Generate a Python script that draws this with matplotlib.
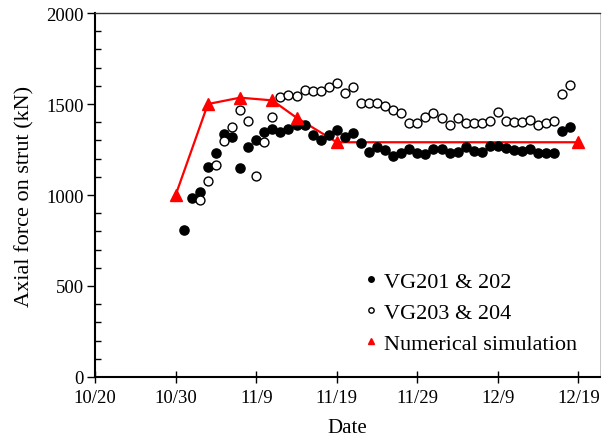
import matplotlib
matplotlib.use("Agg")
from matplotlib import pyplot as plt
from matplotlib.ticker import MultipleLocator
import pandas as pd

YEAR = "2020"

# VG201 & 202 (filled circles)
vg201_dates = [
    "10/31",
    "11/1", "11/2", "11/3", "11/4", "11/5", "11/6", "11/7", "11/8", "11/9", "11/10",
    "11/11", "11/12", "11/13", "11/14", "11/15", "11/16", "11/17", "11/18", "11/19", "11/20",
    "11/21", "11/22", "11/23", "11/24", "11/25", "11/26", "11/27", "11/28", "11/29", "11/30",
    "12/1", "12/2", "12/3", "12/4", "12/5", "12/6", "12/7", "12/8", "12/9", "12/10",
    "12/11", "12/12", "12/13", "12/14", "12/15", "12/16", "12/17", "12/18",
]
vg201_force = [
    810,
    981, 1018, 1155, 1229, 1333, 1317, 1150, 1265, 1302, 1348,
    1363, 1348, 1363, 1385, 1385, 1330, 1302, 1330, 1357, 1317,
    1339, 1284, 1238, 1265, 1247, 1216, 1232, 1251, 1232, 1225,
    1252, 1252, 1232, 1238, 1265, 1241, 1238, 1269, 1269, 1256,
    1247, 1243, 1252, 1232, 1232, 1232, 1354, 1376,
]

# VG203 & 204 (open circles)
vg203_dates = [
    "11/2", "11/3", "11/4", "11/5", "11/6", "11/7", "11/8", "11/9", "11/10",
    "11/11", "11/12", "11/13", "11/14", "11/15", "11/16", "11/17", "11/18", "11/19", "11/20",
    "11/21", "11/22", "11/23", "11/24", "11/25", "11/26", "11/27", "11/28", "11/29", "11/30",
    "12/1", "12/2", "12/3", "12/4", "12/5", "12/6", "12/7", "12/8", "12/9", "12/10",
    "12/11", "12/12", "12/13", "12/14", "12/15", "12/16", "12/17", "12/18",
]
vg203_force = [
    975, 1076, 1164, 1296, 1376, 1467, 1409, 1106, 1293,
    1431, 1541, 1550, 1546, 1577, 1574, 1572, 1592, 1618, 1563,
    1596, 1504, 1504, 1508, 1489, 1467, 1453, 1398, 1398, 1427,
    1453, 1425, 1385, 1425, 1398, 1398, 1398, 1407, 1455, 1407,
    1399, 1399, 1412, 1385, 1394, 1409, 1554, 1602,
]

# Numerical simulation
sim_dates = ["10/30", "11/3", "11/7", "11/11", "11/14", "11/19", "12/19"]
sim_force = [1000, 1500, 1535, 1520, 1425, 1290, 1290]

tick_dates = ["10/20", "10/30", "11/9", "11/19", "11/29", "12/9", "12/19"]


def to_dt(labels):
    return pd.to_datetime([f"{YEAR}/{d}" for d in labels], format="%Y/%m/%d")


plt.rcParams["font.family"] = ["Liberation Serif", "DejaVu Serif"]

fig = plt.figure(figsize=(6.02, 4.39), dpi=100)
ax = fig.add_axes([0.158, 0.139, 0.839, 0.829])

# simulation line (legend shows only the marker)
ax.plot(to_dt(sim_dates), sim_force, "-", color="#ff0000", linewidth=1.6, zorder=2)
ax.plot(to_dt(vg201_dates), vg201_force, "o", color="black", markersize=6.6,
        linestyle="none", label="VG201 & 202", zorder=3)
ax.plot(to_dt(vg203_dates), vg203_force, "o", markerfacecolor="white",
        markeredgecolor="black", markeredgewidth=1.0, markersize=6.4,
        linestyle="none", label="VG203 & 204", zorder=3)
ax.plot(to_dt(sim_dates), sim_force, "^", color="#ff0000", markersize=8,
        linestyle="none", label="Numerical simulation", zorder=4)

ticks = to_dt(tick_dates)
ax.set_xlim(ticks[0], ticks[-1] + pd.Timedelta(days=2.7))
ax.set_xticks(ticks)
ax.set_xticklabels(tick_dates)
ax.set_ylim(0, 2000)
ax.yaxis.set_major_locator(MultipleLocator(500))
ax.yaxis.set_minor_locator(MultipleLocator(100))

ax.tick_params(axis="x", which="major", direction="inout", length=9, width=1,
               labelsize=13.5, pad=4)
ax.tick_params(axis="y", which="major", direction="out", length=6, width=1,
               labelsize=13.5, pad=2)
ax.tick_params(axis="y", which="minor", direction="in", length=4, width=1)

for side in ("left", "bottom"):
    ax.spines[side].set_linewidth(1.5)
    ax.spines[side].set_color("black")
ax.spines["top"].set_linewidth(1.0)
ax.spines["top"].set_color("#333333")
ax.spines["right"].set_linewidth(0.6)
ax.spines["right"].set_color("#bbbbbb")

ax.set_xlabel("Date", fontsize=15, labelpad=9)
ax.set_ylabel("Axial force on strut (kN)", fontsize=16, labelpad=9)

ax.legend(loc="upper left", bbox_to_anchor=(0.515, 0.315), frameon=False,
          fontsize=16, markerscale=0.6, handlelength=0.6, handletextpad=0.3,
          labelspacing=0.48, borderaxespad=0)

fig.savefig("out.png", dpi=100)
